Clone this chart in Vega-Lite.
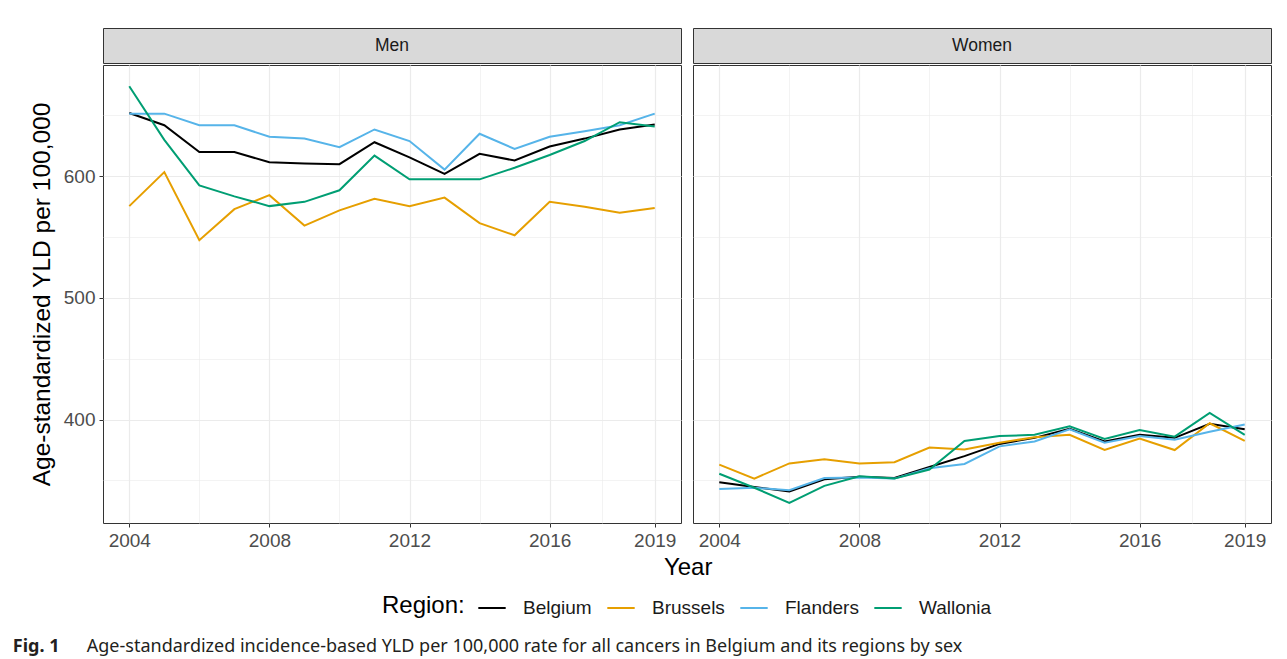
{
  "$schema": "https://vega.github.io/schema/vega-lite/v6.json",
  "padding": {"left": 12, "top": 27, "right": 5, "bottom": 2},
  "background": "white",
  "title": {"text": "Fig. 1", "orient": "bottom", "anchor": "start", "frame": "bounds", "font": "Noto Sans", "fontSize": 18, "fontWeight": "bold", "color": "#231f20", "offset": 0, "dy": -18, "dx": -16},
  "datasets": {
    "d": [
      {"sex":"Men","region":"Belgium","year":2004,"yld":652},{"sex":"Men","region":"Belgium","year":2005,"yld":642},{"sex":"Men","region":"Belgium","year":2006,"yld":620},{"sex":"Men","region":"Belgium","year":2007,"yld":620},{"sex":"Men","region":"Belgium","year":2008,"yld":611.5},{"sex":"Men","region":"Belgium","year":2009,"yld":610.5},{"sex":"Men","region":"Belgium","year":2010,"yld":610},{"sex":"Men","region":"Belgium","year":2011,"yld":628},{"sex":"Men","region":"Belgium","year":2012,"yld":615.5},{"sex":"Men","region":"Belgium","year":2013,"yld":602},{"sex":"Men","region":"Belgium","year":2014,"yld":618.5},{"sex":"Men","region":"Belgium","year":2015,"yld":613},{"sex":"Men","region":"Belgium","year":2016,"yld":624.5},{"sex":"Men","region":"Belgium","year":2017,"yld":631},{"sex":"Men","region":"Belgium","year":2018,"yld":638.5},{"sex":"Men","region":"Belgium","year":2019,"yld":642.5},
      {"sex":"Men","region":"Brussels","year":2004,"yld":575.5},{"sex":"Men","region":"Brussels","year":2005,"yld":603.5},{"sex":"Men","region":"Brussels","year":2006,"yld":547.5},{"sex":"Men","region":"Brussels","year":2007,"yld":573},{"sex":"Men","region":"Brussels","year":2008,"yld":584.5},{"sex":"Men","region":"Brussels","year":2009,"yld":559.5},{"sex":"Men","region":"Brussels","year":2010,"yld":572},{"sex":"Men","region":"Brussels","year":2011,"yld":581.5},{"sex":"Men","region":"Brussels","year":2012,"yld":575.5},{"sex":"Men","region":"Brussels","year":2013,"yld":582.5},{"sex":"Men","region":"Brussels","year":2014,"yld":561.5},{"sex":"Men","region":"Brussels","year":2015,"yld":551.5},{"sex":"Men","region":"Brussels","year":2016,"yld":579},{"sex":"Men","region":"Brussels","year":2017,"yld":575},{"sex":"Men","region":"Brussels","year":2018,"yld":570},{"sex":"Men","region":"Brussels","year":2019,"yld":574},
      {"sex":"Men","region":"Flanders","year":2004,"yld":651.5},{"sex":"Men","region":"Flanders","year":2005,"yld":651.5},{"sex":"Men","region":"Flanders","year":2006,"yld":642},{"sex":"Men","region":"Flanders","year":2007,"yld":642},{"sex":"Men","region":"Flanders","year":2008,"yld":632.5},{"sex":"Men","region":"Flanders","year":2009,"yld":631},{"sex":"Men","region":"Flanders","year":2010,"yld":624},{"sex":"Men","region":"Flanders","year":2011,"yld":638.5},{"sex":"Men","region":"Flanders","year":2012,"yld":629},{"sex":"Men","region":"Flanders","year":2013,"yld":605.5},{"sex":"Men","region":"Flanders","year":2014,"yld":635},{"sex":"Men","region":"Flanders","year":2015,"yld":622.5},{"sex":"Men","region":"Flanders","year":2016,"yld":632.5},{"sex":"Men","region":"Flanders","year":2017,"yld":637},{"sex":"Men","region":"Flanders","year":2018,"yld":642},{"sex":"Men","region":"Flanders","year":2019,"yld":651.5},
      {"sex":"Men","region":"Wallonia","year":2004,"yld":674},{"sex":"Men","region":"Wallonia","year":2005,"yld":630},{"sex":"Men","region":"Wallonia","year":2006,"yld":592.5},{"sex":"Men","region":"Wallonia","year":2007,"yld":583.5},{"sex":"Men","region":"Wallonia","year":2008,"yld":575.5},{"sex":"Men","region":"Wallonia","year":2009,"yld":579},{"sex":"Men","region":"Wallonia","year":2010,"yld":588.5},{"sex":"Men","region":"Wallonia","year":2011,"yld":617},{"sex":"Men","region":"Wallonia","year":2012,"yld":597.5},{"sex":"Men","region":"Wallonia","year":2013,"yld":597.5},{"sex":"Men","region":"Wallonia","year":2014,"yld":597.5},{"sex":"Men","region":"Wallonia","year":2015,"yld":607},{"sex":"Men","region":"Wallonia","year":2016,"yld":617.5},{"sex":"Men","region":"Wallonia","year":2017,"yld":629},{"sex":"Men","region":"Wallonia","year":2018,"yld":644.5},{"sex":"Men","region":"Wallonia","year":2019,"yld":641},
      {"sex":"Women","region":"Belgium","year":2004,"yld":348.5},{"sex":"Women","region":"Belgium","year":2005,"yld":344.5},{"sex":"Women","region":"Belgium","year":2006,"yld":341},{"sex":"Women","region":"Belgium","year":2007,"yld":351},{"sex":"Women","region":"Belgium","year":2008,"yld":353},{"sex":"Women","region":"Belgium","year":2009,"yld":352},{"sex":"Women","region":"Belgium","year":2010,"yld":361},{"sex":"Women","region":"Belgium","year":2011,"yld":370},{"sex":"Women","region":"Belgium","year":2012,"yld":380},{"sex":"Women","region":"Belgium","year":2013,"yld":385},{"sex":"Women","region":"Belgium","year":2014,"yld":392.5},{"sex":"Women","region":"Belgium","year":2015,"yld":382},{"sex":"Women","region":"Belgium","year":2016,"yld":387.5},{"sex":"Women","region":"Belgium","year":2017,"yld":385},{"sex":"Women","region":"Belgium","year":2018,"yld":396.5},{"sex":"Women","region":"Belgium","year":2019,"yld":392},
      {"sex":"Women","region":"Brussels","year":2004,"yld":363},{"sex":"Women","region":"Brussels","year":2005,"yld":351.5},{"sex":"Women","region":"Brussels","year":2006,"yld":364},{"sex":"Women","region":"Brussels","year":2007,"yld":367.5},{"sex":"Women","region":"Brussels","year":2008,"yld":364},{"sex":"Women","region":"Brussels","year":2009,"yld":365},{"sex":"Women","region":"Brussels","year":2010,"yld":377},{"sex":"Women","region":"Brussels","year":2011,"yld":375.5},{"sex":"Women","region":"Brussels","year":2012,"yld":381},{"sex":"Women","region":"Brussels","year":2013,"yld":385.5},{"sex":"Women","region":"Brussels","year":2014,"yld":387.5},{"sex":"Women","region":"Brussels","year":2015,"yld":375},{"sex":"Women","region":"Brussels","year":2016,"yld":384.5},{"sex":"Women","region":"Brussels","year":2017,"yld":375},{"sex":"Women","region":"Brussels","year":2018,"yld":397},{"sex":"Women","region":"Brussels","year":2019,"yld":382.5},
      {"sex":"Women","region":"Flanders","year":2004,"yld":343},{"sex":"Women","region":"Flanders","year":2005,"yld":344},{"sex":"Women","region":"Flanders","year":2006,"yld":342},{"sex":"Women","region":"Flanders","year":2007,"yld":352},{"sex":"Women","region":"Flanders","year":2008,"yld":352.5},{"sex":"Women","region":"Flanders","year":2009,"yld":351.5},{"sex":"Women","region":"Flanders","year":2010,"yld":360},{"sex":"Women","region":"Flanders","year":2011,"yld":363.5},{"sex":"Women","region":"Flanders","year":2012,"yld":378},{"sex":"Women","region":"Flanders","year":2013,"yld":382},{"sex":"Women","region":"Flanders","year":2014,"yld":392},{"sex":"Women","region":"Flanders","year":2015,"yld":381},{"sex":"Women","region":"Flanders","year":2016,"yld":386.5},{"sex":"Women","region":"Flanders","year":2017,"yld":383.5},{"sex":"Women","region":"Flanders","year":2018,"yld":390},{"sex":"Women","region":"Flanders","year":2019,"yld":396},
      {"sex":"Women","region":"Wallonia","year":2004,"yld":355.5},{"sex":"Women","region":"Wallonia","year":2005,"yld":344},{"sex":"Women","region":"Wallonia","year":2006,"yld":331.5},{"sex":"Women","region":"Wallonia","year":2007,"yld":345.5},{"sex":"Women","region":"Wallonia","year":2008,"yld":353.5},{"sex":"Women","region":"Wallonia","year":2009,"yld":351.5},{"sex":"Women","region":"Wallonia","year":2010,"yld":359},{"sex":"Women","region":"Wallonia","year":2011,"yld":382.5},{"sex":"Women","region":"Wallonia","year":2012,"yld":386.5},{"sex":"Women","region":"Wallonia","year":2013,"yld":387.5},{"sex":"Women","region":"Wallonia","year":2014,"yld":394.5},{"sex":"Women","region":"Wallonia","year":2015,"yld":384},{"sex":"Women","region":"Wallonia","year":2016,"yld":391.5},{"sex":"Women","region":"Wallonia","year":2017,"yld":386},{"sex":"Women","region":"Wallonia","year":2018,"yld":405.5},{"sex":"Women","region":"Wallonia","year":2019,"yld":387.5}
    ]
  },
  "vconcat": [
    {
      "title": {"text": "Age-standardized incidence-based YLD per 100,000 rate for all cancers in Belgium and its regions by sex", "orient": "bottom", "anchor": "start", "frame": "bounds", "font": "Noto Sans", "fontSize": 18, "fontWeight": "normal", "color": "#231f20", "offset": 58, "dx": 58},
      "vconcat": [
        {
          "title": {"text": "Year", "orient": "bottom", "anchor": "middle", "frame": "bounds", "fontSize": 24, "fontWeight": "normal", "color": "#000000", "offset": 5, "dx": 38},
          "spacing": 10,
          "resolve": {"scale": {"color": "shared"}, "legend": {"color": "shared"}},
          "hconcat": [
            {
              "spacing": 0,
              "vconcat": [
                {
                  "width": 578, "height": 35,
                  "data": {"values": [{"sex": "Men"}]},
                  "view": {"fill": "#D9D9D9", "stroke": "#333333", "strokeWidth": 1},
                  "mark": {"type": "text", "fontSize": 17.5, "color": "#1a1a1a"},
                  "encoding": {"text": {"field": "sex"}}
                },
                {
                  "width": 578, "height": 458,
                  "data": {"name": "d"},
                  "transform": [{"filter": "datum.sex === 'Men'"}],
                  "mark": {"type": "line", "strokeWidth": 2},
                  "encoding": {
                    "x": {"field": "year", "type": "quantitative",
                      "scale": {"domain": [2003.25, 2019.75], "nice": false, "zero": false},
                      "axis": {"values": [2004, 2006, 2008, 2010, 2012, 2014, 2016, 2017.5, 2019], "format": "d",
                        "labelExpr": "(datum.value % 4 === 0 || datum.value === 2019) ? datum.label : ''",
                        "gridWidth": {"condition": {"test": "datum.value % 4 === 0 || datum.value === 2019", "value": 1.2}, "value": 0.6},
                        "tickOpacity": {"condition": {"test": "datum.value % 4 === 0 || datum.value === 2019", "value": 1}, "value": 0},
                        "title": null}},
                    "y": {"field": "yld", "type": "quantitative",
                      "scale": {"domain": [315, 691.5], "nice": false, "zero": false},
                      "axis": {"values": [350, 400, 450, 500, 550, 600, 650],
                        "labelExpr": "datum.value % 100 === 0 ? datum.label : ''",
                        "gridWidth": {"condition": {"test": "datum.value % 100 === 0", "value": 1.2}, "value": 0.6},
                        "tickOpacity": {"condition": {"test": "datum.value % 100 === 0", "value": 1}, "value": 0},
                        "title": "Age-standardized YLD per 100,000", "titleFontSize": 24.5, "titleFontWeight": "normal", "titleColor": "#000000", "titlePadding": 9}},
                    "color": {"field": "region", "type": "nominal",
                      "scale": {"domain": ["Belgium", "Brussels", "Flanders", "Wallonia"], "range": ["#000000", "#E69F00", "#56B4E9", "#009E73"]},
                      "legend": {"orient": "none", "legendX": 279, "legendY": 565, "direction": "horizontal", "title": "Region:", "titleOrient": "left", "titleFontSize": 24, "titleFontWeight": "normal", "titleColor": "#000000", "titlePadding": 12, "labelFontSize": 19, "labelColor": "#1a1a1a", "symbolType": "stroke", "symbolSize": 750, "symbolStrokeWidth": 2, "columnPadding": 11, "labelOffset": 16}}
                  }
                }
              ]
            },
            {
              "spacing": 0,
              "vconcat": [
                {
                  "width": 578, "height": 35,
                  "data": {"values": [{"sex": "Women"}]},
                  "view": {"fill": "#D9D9D9", "stroke": "#333333", "strokeWidth": 1},
                  "mark": {"type": "text", "fontSize": 17.5, "color": "#1a1a1a"},
                  "encoding": {"text": {"field": "sex"}}
                },
                {
                  "width": 578, "height": 458,
                  "data": {"name": "d"},
                  "transform": [{"filter": "datum.sex === 'Women'"}],
                  "mark": {"type": "line", "strokeWidth": 2},
                  "encoding": {
                    "x": {"field": "year", "type": "quantitative",
                      "scale": {"domain": [2003.25, 2019.75], "nice": false, "zero": false},
                      "axis": {"values": [2004, 2006, 2008, 2010, 2012, 2014, 2016, 2017.5, 2019], "format": "d",
                        "labelExpr": "(datum.value % 4 === 0 || datum.value === 2019) ? datum.label : ''",
                        "gridWidth": {"condition": {"test": "datum.value % 4 === 0 || datum.value === 2019", "value": 1.2}, "value": 0.6},
                        "tickOpacity": {"condition": {"test": "datum.value % 4 === 0 || datum.value === 2019", "value": 1}, "value": 0},
                        "title": null}},
                    "y": {"field": "yld", "type": "quantitative",
                      "scale": {"domain": [315, 691.5], "nice": false, "zero": false},
                      "axis": {"values": [350, 400, 450, 500, 550, 600, 650], "labels": false, "ticks": false, "title": null,
                        "gridWidth": {"condition": {"test": "datum.value % 100 === 0", "value": 1.2}, "value": 0.6}}},
                    "color": {"field": "region", "type": "nominal",
                      "scale": {"domain": ["Belgium", "Brussels", "Flanders", "Wallonia"], "range": ["#000000", "#E69F00", "#56B4E9", "#009E73"]},
                      "legend": {"orient": "none", "legendX": 279, "legendY": 565, "direction": "horizontal", "title": "Region:", "titleOrient": "left", "titleFontSize": 24, "titleFontWeight": "normal", "titleColor": "#000000", "titlePadding": 12, "labelFontSize": 19, "labelColor": "#1a1a1a", "symbolType": "stroke", "symbolSize": 750, "symbolStrokeWidth": 2, "columnPadding": 11, "labelOffset": 16}}
                  }
                }
              ]
            }
          ]
        }
      ]
    }
  ],
  "config": {
    "font": "Liberation Sans",
    "view": {"stroke": "#333333", "strokeWidth": 1},
    "axis": {"domain": false, "gridColor": "#EBEBEB", "tickColor": "#333333", "tickSize": 4, "tickWidth": 1, "labelFontSize": 19, "labelColor": "#4D4D4D"},
    "axisX": {"labelPadding": 4},
    "axisY": {"labelPadding": 4}
  }
}
